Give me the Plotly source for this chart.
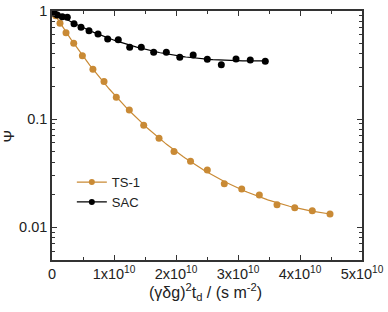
import numpy as np
import plotly.graph_objects as go

# TS-1 data
ts1_x = [0.06, 0.129, 0.226, 0.35, 0.49, 0.66, 0.839, 1.037, 1.247, 1.479, 1.726,
         1.968, 2.234, 2.505, 2.779, 3.06, 3.344, 3.629, 3.915, 4.198, 4.484]
ts1_y = [0.905, 0.769, 0.630, 0.502, 0.386, 0.289, 0.223, 0.159, 0.121, 0.0874, 0.0663,
         0.050, 0.0406, 0.0337, 0.0252, 0.0225, 0.0198, 0.0161, 0.0151, 0.01415, 0.0132]
# SAC data
sac_x = [0.037, 0.085, 0.166, 0.247, 0.355, 0.468, 0.597, 0.742, 0.898, 1.069, 1.253,
         1.44, 1.64, 1.844, 2.061, 2.277, 2.505, 2.731, 2.968, 3.198, 3.44]
sac_y = [0.952, 0.918, 0.886, 0.874, 0.763, 0.706, 0.657, 0.612, 0.550, 0.542, 0.461,
         0.461, 0.415, 0.415, 0.373, 0.391, 0.357, 0.318, 0.360, 0.352, 0.342]
x_scale = 1e10

x_tickvals = [0, 1, 2, 3, 4, 5]
x_ticktext = ["0", "1x10<sup>10</sup>", "2x10<sup>10</sup>", "3x10<sup>10</sup>",
              "4x10<sup>10</sup>", "5x10<sup>10</sup>"]
y_tickvals = [0.01, 0.1, 1]
y_ticktext = ["0.01", "0.1", "1"]

orange = "#C98A35"
black = "#000000"
FONT = "Liberation Sans, Arial"


def fit_curve(xs, ys, deg):
    xs = np.array(xs)
    c = np.polyfit(xs, np.log10(ys), deg)
    xf = np.linspace(0, xs.max(), 200)
    return xf * x_scale, 10 ** np.polyval(c, xf)


fig = go.Figure()
for xs, ys, col, deg in [(ts1_x, ts1_y, orange, 4), (sac_x, sac_y, black, 3)]:
    fx, fy = fit_curve(xs, ys, deg)
    fig.add_trace(go.Scatter(x=fx, y=fy, mode="lines", line=dict(color=col, width=1.2),
                             showlegend=False, hoverinfo="skip"))
for xs, ys, col, name in [(ts1_x, ts1_y, orange, "TS-1"), (sac_x, sac_y, black, "SAC")]:
    fig.add_trace(go.Scatter(x=[v * x_scale for v in xs], y=ys, mode="markers", name=name,
                             marker=dict(color=col, size=7), showlegend=False))
for col, name in [(orange, "TS-1"), (black, "SAC")]:
    fig.add_trace(go.Scatter(x=[None], y=[None], mode="lines+markers", name=name,
                             line=dict(color=col, width=1.2), marker=dict(color=col, size=6)))

axis_common = dict(showline=True, linecolor="#333333", linewidth=1.5, mirror="ticks",
                   ticks="inside", ticklen=5, tickcolor="#333333", showgrid=False, zeroline=False,
                   automargin=False,
                   tickfont=dict(family=FONT, size=14.5, color="#222"))
fig.update_xaxes(range=[0, 5e10], tickvals=[v * x_scale for v in x_tickvals], ticktext=x_ticktext,
                 minor=dict(ticks="inside", ticklen=3, dtick=0.5e10, tickcolor="#333333"),
                 **axis_common)
fig.update_yaxes(type="log", range=[-2.305, 0], tickvals=y_tickvals, ticktext=y_ticktext,
                 minor=dict(ticks="inside", ticklen=3, dtick="D1", tickcolor="#333333"),
                 **axis_common)
fig.update_layout(width=388, height=312, margin=dict(l=52, r=26, t=11, b=52),
                  plot_bgcolor="white", paper_bgcolor="white",
                  annotations=[
                      dict(text="(γδg)<sup>2</sup>t<sub>d</sub> / (s m<sup>-2</sup>)",
                           xref="paper", yref="paper", x=0.495, y=-0.1285, xanchor="center",
                           yanchor="middle", showarrow=False,
                           font=dict(family=FONT, size=16, color="#222")),
                      dict(text="Ψ", xref="paper", yref="paper", x=-0.139, y=0.5,
                           xanchor="center", yanchor="middle", textangle=-90, showarrow=False,
                           font=dict(family=FONT, size=15, color="#222")),
                  ],
                  legend=dict(x=0.064, y=0.373, xanchor="left", yanchor="top",
                              bgcolor="rgba(0,0,0,0)", tracegroupgap=0, itemwidth=30,
                              font=dict(family=FONT, size=13, color="#222")))
fig.write_html("out.html", post_script="document.body.style.margin='0';",
               config={"displayModeBar": False})
